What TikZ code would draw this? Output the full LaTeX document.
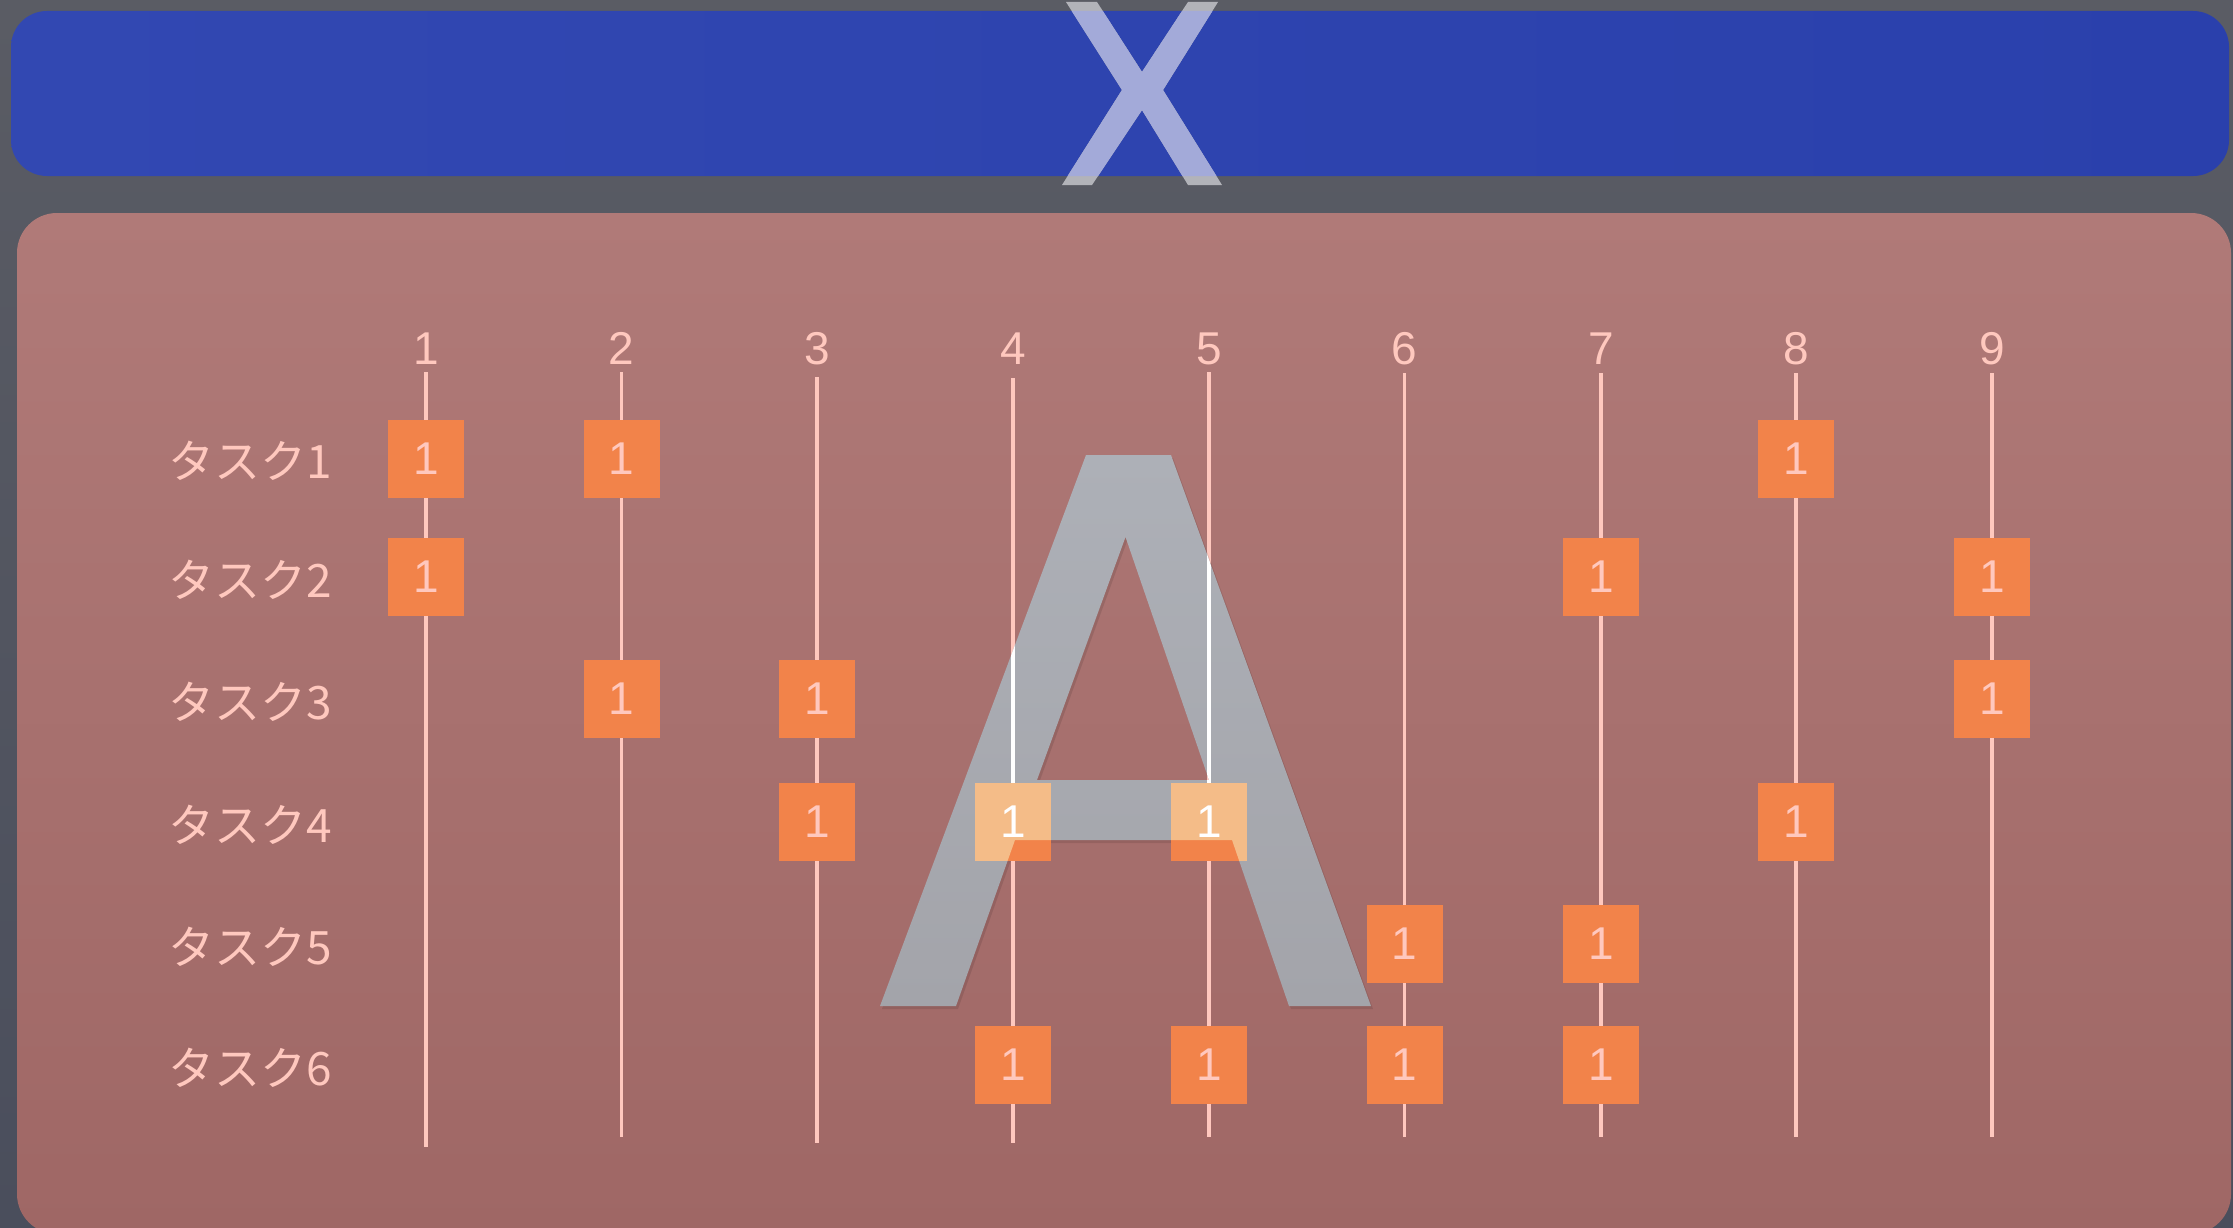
\documentclass[tikz,border=0pt]{standalone}
\usepackage{fontspec}
\setmainfont{Liberation Sans}
\newfontfamily\jpfont{Noto Sans CJK JP}
\definecolor{bgtop}{RGB}{90,92,100}
\definecolor{bgbot}{RGB}{74,78,92}
\definecolor{blueL}{RGB}{50,72,178}
\definecolor{blueR}{RGB}{42,64,172}
\definecolor{xgrey}{RGB}{178,179,185}
\definecolor{xblue}{RGB}{163,170,217}
\definecolor{pinkT}{RGB}{176,122,120}
\definecolor{pinkB}{RGB}{159,103,101}
\definecolor{linepink}{RGB}{255,200,190}
\definecolor{cellorange}{RGB}{242,131,74}
\definecolor{peach}{RGB}{244,188,136}
\definecolor{agreyT}{RGB}{173,176,183}
\definecolor{agreyB}{RGB}{163,164,170}
\tikzset{
  gridline/.style={draw=linepink, line width=3.3pt},
  hdr/.style={text=linepink, font=\fontsize{46}{46}\selectfont, inner sep=0pt, anchor=base},
  tasklbl/.style={text=linepink, font=\jpfont\fontsize{46}{46}\selectfont, inner sep=0pt, anchor=base west},
  cell/.style={fill=cellorange, minimum width=76pt, minimum height=78pt, inner sep=0pt,
               text=linepink, font=\fontsize{46}{46}\selectfont},
  Apath/.style={insert path={(880,1006) -- (1086,455) -- (1171,455) -- (1371,1006) -- (1289,1006)
     -- (1232,840) -- (1015,840) -- (956,1006) -- cycle
     (1125.5,537) -- (1037,780) -- (1209,780) -- cycle}},
  Xpath/.style={insert path={(1066,2) -- (1097,2) -- (1142,72) -- (1188,2) -- (1218,2) -- (1163,90)
     -- (1222,185) -- (1188,185) -- (1142,110) -- (1092,185) -- (1062,185) -- (1122,90) -- cycle}},
  barpath/.style={insert path={[rounded corners=36pt] (11,11) rectangle (2229,176)}}
}
\begin{document}
\begin{tikzpicture}[x=1pt,y=-1pt]
\useasboundingbox (0,0) rectangle (2233,1228);
% background
\shade[top color=bgtop, bottom color=bgbot] (0,0) rectangle (2233,1228);
% title bar
\shade[left color=blueL, right color=blueR, barpath];
\fill[xgrey, Xpath];
\begin{scope}
  \clip[barpath];
  \fill[xblue, Xpath];
\end{scope}
% panel
\shade[top color=pinkT, bottom color=pinkB, rounded corners=40pt] (17,213) rectangle (2231,1234);

% column headers
\foreach \i/\x in {1/426,2/621.5,3/817,4/1013,5/1209,6/1404.5,7/1601,8/1796,9/1992}{
  \node[hdr] (h\i) at (\x,364) {\i};
}
% task labels
\foreach \r/\y in {1/458.5,2/577,3/699,4/822,5/944,6/1065}{
  \node[tasklbl] (l\r) at (168,\y+20) {タスク\r};
}
% column lines
\foreach \i/\x/\s/\e in {1/426/372/1147,2/621.5/372/1137,3/817/377/1143,4/1013/378/1143,5/1209/372/1137,
                         6/1404.5/373/1137,7/1601/373/1137,8/1796/373/1137,9/1992/373/1137}{
  \coordinate (t\i) at (\x,\s);
  \coordinate (e\i) at (\x,\e);
  \draw[gridline] (t\i) -- (e\i);
}
% big A
\fill[black, opacity=0.10, shift={(2,3)}, Apath];
\shade[top color=agreyT, bottom color=agreyB, Apath];
\begin{scope}
  \clip[Apath];
  \draw[gridline, draw=white] (t4) -- (e4);
  \draw[gridline, draw=white] (t5) -- (e5);
\end{scope}

% cells
\foreach \r/\c/\x/\y in {1/1/426/458.5, 1/2/621.5/458.5, 1/8/1796/458.5,
                         2/1/426/577, 2/7/1601/577, 2/9/1992/577,
                         3/2/621.5/699, 3/3/817/699, 3/9/1992/699,
                         4/3/817/822, 4/4/1013/822, 4/5/1209/822, 4/8/1796/822,
                         5/6/1404.5/944, 5/7/1601/944,
                         6/4/1013/1065, 6/5/1209/1065, 6/6/1404.5/1065, 6/7/1601/1065}{
  \node[cell] (b\r\c) at (\x,\y) {1};
}
\begin{scope}
  \clip[Apath];
  \fill[peach] (b44.south west) rectangle (b44.north east);
  \fill[peach] (b45.south west) rectangle (b45.north east);
\end{scope}
\node[cell, fill=none, text=white] (w44) at (b44.center) {1};
\node[cell, fill=none, text=white] (w45) at (b45.center) {1};
\end{tikzpicture}
\end{document}
